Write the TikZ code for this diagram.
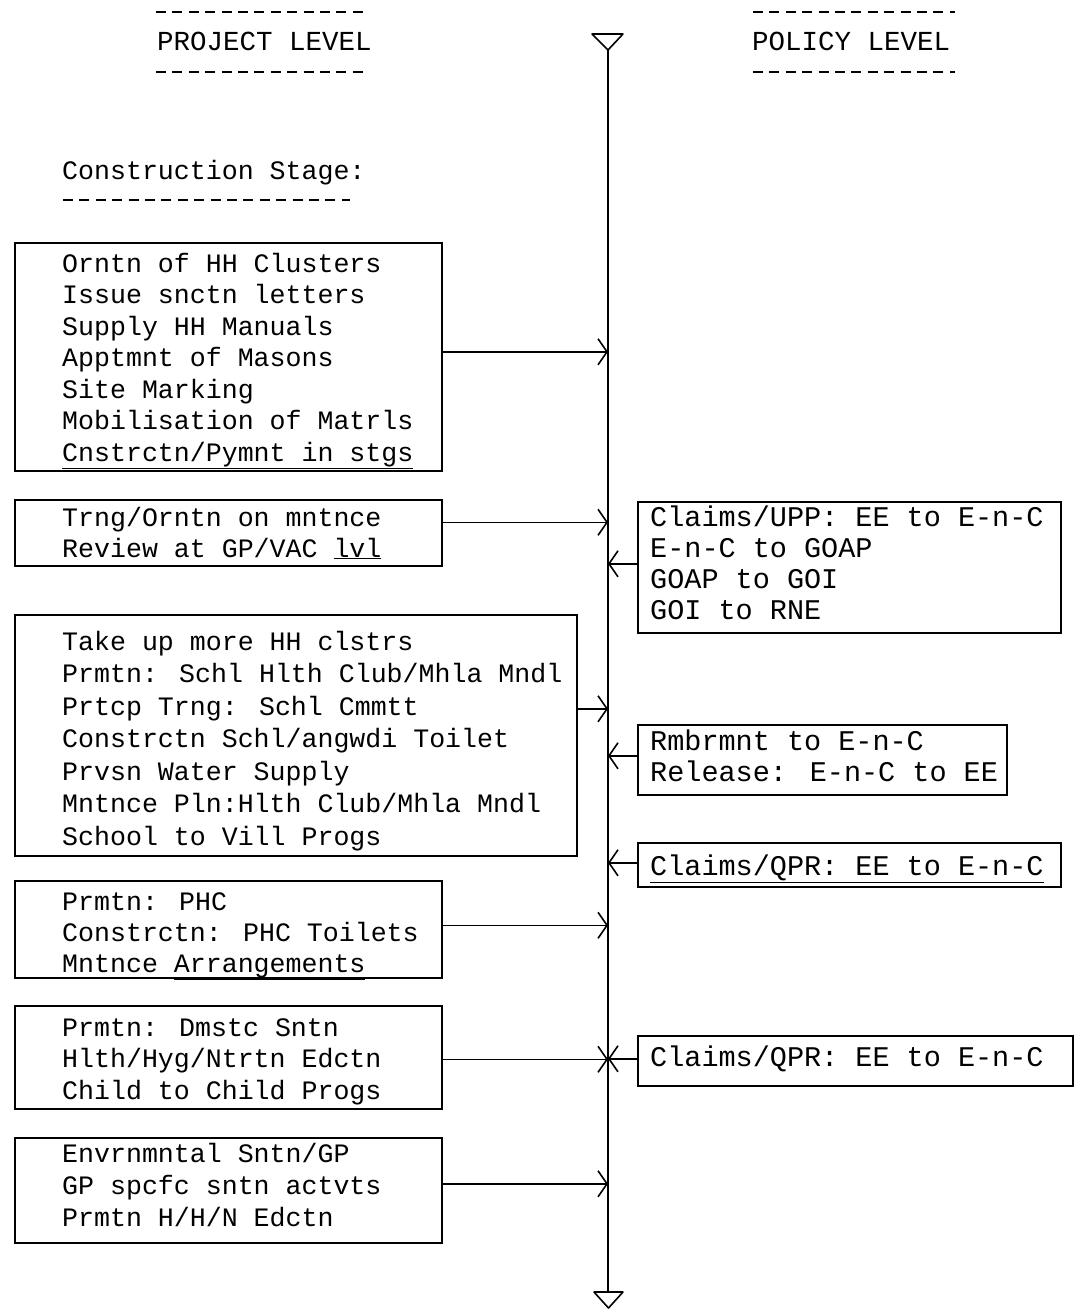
\documentclass[tikz,border=0pt]{standalone}
\usepackage{fontspec}
\newfontfamily\plotfont{Liberation Mono}
\usetikzlibrary{arrows.meta}
\tikzset{
  ln/.style={line width=1.6pt, line cap=round, line join=round},
  boxn/.style={draw, line width=1.6pt, inner sep=0pt, anchor=north west},
  txtL/.style={inner sep=0pt, anchor=base west, font=\plotfont\fontsize{26.6}{30}\selectfont},
  txtR/.style={inner sep=0pt, anchor=base west, font=\plotfont\fontsize{28.5}{32}\selectfont},
  arr/.style={ln, -{Straight Barb[length=9pt,width=26pt,line width=1.6pt]}},
  hdash/.style={line width=2pt, dash pattern=on 10pt off 6.4pt},
}
\begin{document}
\begin{tikzpicture}[x=1pt,y=-1pt]
\useasboundingbox (0,0) rectangle (1077,1311);

% headers
\node[txtL, font=\plotfont\fontsize{27.5}{30}\selectfont] (hp) at (157,51) {PROJECT LEVEL};
\node[txtL, font=\plotfont\fontsize{27.5}{30}\selectfont] (hq) at (752,51) {POLICY LEVEL};
\draw[hdash] (156,12) -- (368,12);
\draw[hdash] (156,72) -- (368,72);
\draw[hdash] (753,12) -- (955,12);
\draw[hdash] (753,72) -- (955,72);
\node[txtL] (cs) at (62,179) {Construction Stage:};
\draw[hdash] (63,200) -- (350,200);

% axis
\coordinate (top) at (608,50);
\coordinate (bot) at (608,1292);
\draw[ln] (top) -- (bot);
\draw[ln] (592,34) -- (623,34) -- (top) -- cycle;
\draw[ln] (594,1292) -- (623,1292) -- (608.5,1308) -- cycle;

% left boxes
\node[boxn, minimum width=427pt, minimum height=228pt] (A) at (14,242) {};
\node[boxn, minimum width=427pt, minimum height=66pt]  (B) at (14,499) {};
\node[boxn, minimum width=562pt, minimum height=241pt] (C) at (14,614) {};
\node[boxn, minimum width=427pt, minimum height=97pt]  (D) at (14,880) {};
\node[boxn, minimum width=427pt, minimum height=103pt] (E) at (14,1005) {};
\node[boxn, minimum width=427pt, minimum height=105pt] (F) at (14,1137) {};

% right boxes
\node[boxn, minimum width=423pt, minimum height=131pt] (R1) at (637,501) {};
\node[boxn, minimum width=369pt, minimum height=70pt]  (R2) at (637,724) {};
\node[boxn, minimum width=423pt, minimum height=44pt]  (R3) at (637,842) {};
\node[boxn, minimum width=435pt, minimum height=50pt]  (R4) at (637,1035) {};

% texts
\foreach \t [count=\i] in {Orntn of HH Clusters, Issue snctn letters, Supply HH Manuals, Apptmnt of Masons, Site Marking, Mobilisation of Matrls, \underline{Cnstrctn/Pymnt in stgs}}
  \node[txtL] (A\i) at (62,{272+(\i-1)*31.5}) {\t};
\foreach \t [count=\i] in {Trng/Orntn on mntnce, Review at GP/VAC \underline{lvl}}
  \node[txtL] (B\i) at (62,{526+(\i-1)*31}) {\t};
\foreach \t [count=\i] in {Take up more HH clstrs, Prmtn: Schl Hlth Club/Mhla Mndl, Prtcp Trng: Schl Cmmtt, Constrctn Schl/angwdi Toilet, Prvsn Water Supply, Mntnce Pln:Hlth Club/Mhla Mndl, School to Vill Progs}
  \node[txtL] (C\i) at (62,{650+(\i-1)*32.5}) {\t};
\foreach \t [count=\i] in {Prmtn: PHC, Constrctn: PHC Toilets, Mntnce \underline{Arrangements}}
  \node[txtL] (D\i) at (62,{910+(\i-1)*31}) {\t};
\foreach \t [count=\i] in {Prmtn: Dmstc Sntn, Hlth/Hyg/Ntrtn Edctn, Child to Child Progs}
  \node[txtL] (E\i) at (62,{1036+(\i-1)*31.5}) {\t};
\foreach \t [count=\i] in {Envrnmntal Sntn/GP, GP spcfc sntn actvts, Prmtn H/H/N Edctn}
  \node[txtL] (F\i) at (62,{1162+(\i-1)*32}) {\t};
\foreach \t [count=\i] in {Claims/UPP: EE to E-n-C, E-n-C to GOAP, GOAP to GOI, GOI to RNE}
  \node[txtR] (R1\i) at (650,{526+(\i-1)*31}) {\t};
\foreach \t [count=\i] in {Rmbrmnt to E-n-C, Release: E-n-C to EE}
  \node[txtR] (R2\i) at (650,{750+(\i-1)*31}) {\t};
\node[txtR] (R31) at (650,875) {\underline{Claims/QPR: EE to E-n-C}};
\node[txtR] (R41) at (650,1066) {Claims/QPR: EE to E-n-C};

% connectors left -> axis
\draw[arr] ([yshift=5pt]A.east) -- ([yshift=5pt]A.east -| top);
\draw[arr] ([yshift=10.5pt]B.east) -- ([yshift=10.5pt]B.east -| top);
\draw[arr] ([yshift=26.5pt]C.east) -- ([yshift=26.5pt]C.east -| top);
\draw[arr] ([yshift=4pt]D.east) -- ([yshift=4pt]D.east -| top);
\draw[arr] ([yshift=-2pt]E.east) -- ([yshift=-2pt]E.east -| top);
\draw[arr] ([yshift=6.5pt]F.east) -- ([yshift=6.5pt]F.east -| top);

% connectors right -> axis
\draw[arr] ([yshift=3.5pt]R1.west) -- ([yshift=3.5pt]R1.west -| top);
\draw[arr] ([yshift=4pt]R2.west) -- ([yshift=4pt]R2.west -| top);
\draw[arr] ([yshift=2pt]R3.west) -- ([yshift=2pt]R3.west -| top);
\draw[arr] ([yshift=2pt]R4.west) -- ([yshift=2pt]R4.west -| top);
\end{tikzpicture}
\end{document}
